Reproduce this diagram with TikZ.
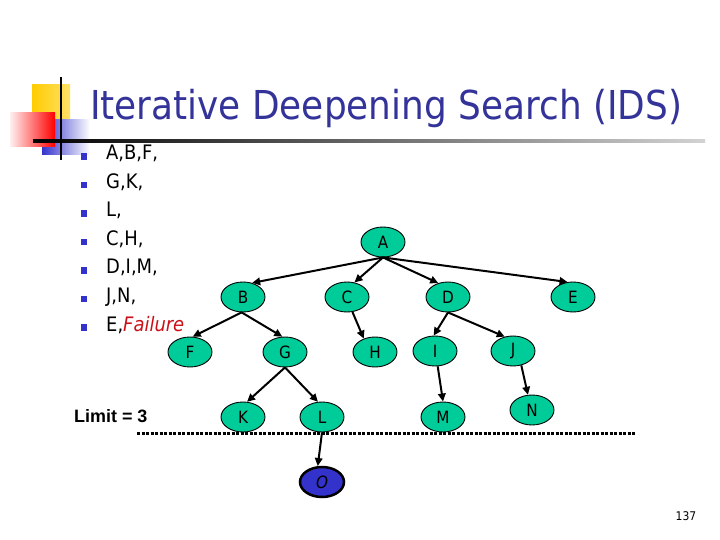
\documentclass[tikz,border=0pt]{standalone}
\usepackage{fontspec}
\setmainfont{DejaVu Sans}[FakeStretch=0.9]
\newfontfamily\arialf{Liberation Sans}
\usetikzlibrary{arrows.meta,shapes.geometric}
\definecolor{titleblue}{RGB}{51,51,153}
\definecolor{bulletblue}{RGB}{51,51,204}
\definecolor{nodegreen}{RGB}{0,204,153}
\definecolor{failred}{RGB}{204,16,24}
\definecolor{decoyellow}{RGB}{255,204,0}
\begin{document}
\begin{tikzpicture}[x=1bp,y=-1bp,
  tnode/.style={ellipse, draw=black, line width=0.9bp, fill=nodegreen, minimum width=44bp, minimum height=30bp, inner sep=0pt, font=\fontsize{17}{19}\selectfont},
  onode/.style={tnode, fill=bulletblue, line width=2.5bp, font=\fontsize{17}{19}\selectfont\itshape},
  link/.style={-{Triangle[length=8bp,width=7.5bp]}, line width=2bp},
  bul/.style={fill=bulletblue, minimum size=6.5bp, inner sep=0pt, shape=rectangle},
  btext/.style={anchor=base west, inner sep=0pt, font=\fontsize{20}{24}\selectfont}
]
\useasboundingbox (0,0) rectangle (720,540);
\fill[white] (0,0) rectangle (720,540);
% decoration
\shade[left color=decoyellow, right color=decoyellow!60] (32,85) rectangle (70,123);
\shade[left color=bulletblue, middle color=bulletblue!85, right color=white] (42,120) rectangle (90,155);
\shade[left color=red!6, right color=red] (10,113) rectangle (55,147);
\shade[left color=black, right color=gray!35] (33,139.5) rectangle (705,142.5);
\draw[line width=2.5bp] (61,77) -- (61,160);
% title
\node[anchor=base west, inner sep=0pt, text=titleblue, font=\fontsize{40}{48}\selectfont] (title) at (90,120) {Iterative Deepening Search (IDS)};
% bullets
\foreach \i/\t in {0/{A,B,F,},1/{G,K,},2/{L,},3/{C,H,},4/{D,I,M,},5/{J,N,},6/{E,\textcolor{failred}{\itshape Failure}}}{
  \node[bul] (b\i) at (84,156.5+28.5*\i) {};
  \node[btext] (t\i) at (106,160+28.5*\i) {\t};
}
% tree
\node[tnode] (A) at (383,242) {A};
\node[tnode] (B) at (243,297) {B};
\node[tnode] (C) at (347,297) {C};
\node[tnode] (D) at (448,297) {D};
\node[tnode] (E) at (573,297) {E};
\node[tnode] (F) at (190,352) {F};
\node[tnode] (G) at (285,352) {G};
\node[tnode] (H) at (375,352) {H};
\node[tnode] (I) at (435,351) {I};
\node[tnode] (J) at (513,351) {J};
\node[tnode] (K) at (243,417) {K};
\node[tnode] (L) at (322,417) {L};
\node[tnode] (M) at (443,417) {M};
\node[tnode] (N) at (532,410) {N};
\node[onode] (O) at (322,482) {O};
% limit line
\coordinate (lim1) at (137,433);
\coordinate (lim2) at (635,433);
\draw[line width=3bp, dash pattern=on 3bp off 1.5bp] (lim1) -- (lim2);
\node[anchor=base west, inner sep=0pt, font=\arialf\bfseries\fontsize{18}{21}\selectfont] (limit) at (74,422) {Limit = 3};
% connectors
\draw[link] (A.south) -- (B.57);
\draw[link] (A.south) -- (C.63);
\draw[link] (A.south) -- (D.125);
\draw[link] (A.south) -- (E.110);
\draw[link] (B.265) -- (F.80);
\draw[link] (B.265) -- (G.100);
\draw[link] (C.290) -- (H.130);
\draw[link] (D.south) -- (I.95);
\draw[link] (D.south) -- (J.120);
\draw[link] (G.south) -- (K.75);
\draw[link] (G.south) -- (L.105);
\draw[link] (I.280) -- (M.north);
\draw[link] (J.300) -- (N.105);
\draw[link] (L.south) -- (O.105);
% page number
\node[inner sep=0pt, font=\fontsize{12}{14}\selectfont] (page) at (686,516) {137};
\end{tikzpicture}
\end{document}
